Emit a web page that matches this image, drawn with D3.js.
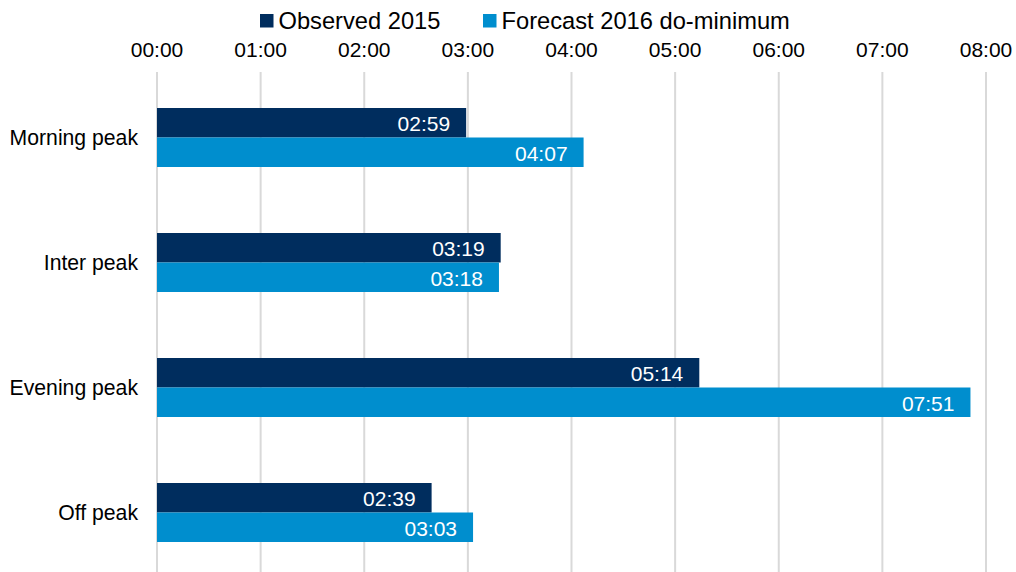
<!DOCTYPE html>
<html>
<head>
<meta charset="utf-8">
<script src="https://cdn.jsdelivr.net/npm/d3@7"></script>
<style>
  body { margin: 0; background: #fff; }
  text { font-family: "Liberation Sans", Arial, sans-serif; }
</style>
</head>
<body>
<div id="chart"></div>
<script>
// data (minutes)
var categories = ["Morning peak", "Inter peak", "Evening peak", "Off peak"];
var seriesNames = ["Observed 2015", "Forecast 2016 do-minimum"];
var observed2015 = [179, 199, 314, 159];
var forecast2016 = [247, 198, 471, 183];
var tickValues = [0, 60, 120, 180, 240, 300, 360, 420, 480];
var colors = ["#002D5E", "#008ECE"];

var W = 1016, H = 572;
var margin = {left: 157, right: 30, top: 75, bottom: -3};

var svg = d3.select("#chart").append("svg")
    .attr("width", W).attr("height", H);

var x = d3.scaleLinear().domain([0, 480]).range([margin.left, 986]);
var y = d3.scaleBand().domain(categories).range([margin.top, H - margin.bottom]);
var ySub = d3.scaleBand().domain(seriesNames)
    .range([(y.bandwidth() - 59) / 2, (y.bandwidth() + 59) / 2]);

function fmt(m) {
  return d3.format("02d")(Math.floor(m / 60)) + ":" + d3.format("02d")(m % 60);
}

// gridlines
svg.append("g").selectAll("line")
  .data(tickValues).enter().append("line")
    .attr("x1", d => x(d)).attr("x2", d => x(d))
    .attr("y1", 72).attr("y2", H)
    .attr("stroke", "#d9d9d9").attr("stroke-width", 2);

// top axis labels
svg.append("g").selectAll("text")
  .data(tickValues).enter().append("text")
    .attr("x", d => x(d)).attr("y", 49)
    .attr("text-anchor", "middle").attr("dominant-baseline", "central")
    .style("font-size", "21px").attr("fill", "#000")
    .text(d => fmt(d));

// category labels
svg.append("g").selectAll("text")
  .data(categories).enter().append("text")
    .attr("x", 138).attr("y", d => y(d) + y.bandwidth() / 2)
    .attr("text-anchor", "end").attr("dominant-baseline", "central")
    .style("font-size", "21.2px").attr("fill", "#000")
    .text(d => d);

var rows = [];
categories.forEach(function(c, i) {
  rows.push({cat: c, s: seriesNames[0], v: observed2015[i], col: colors[0]});
  rows.push({cat: c, s: seriesNames[1], v: forecast2016[i], col: colors[1]});
});

var bars = svg.append("g").selectAll("g")
  .data(rows).enter().append("g");

bars.append("rect")
    .attr("x", x(0))
    .attr("y", d => y(d.cat) + ySub(d.s))
    .attr("width", d => x(d.v) - x(0))
    .attr("height", ySub.bandwidth())
    .attr("fill", d => d.col);

bars.append("text")
    .attr("x", d => x(d.v) - 16)
    .attr("y", d => y(d.cat) + ySub(d.s) + ySub.bandwidth() / 2 + 1)
    .attr("text-anchor", "end").attr("dominant-baseline", "central")
    .style("font-size", "21px").attr("fill", "#fff")
    .text(d => fmt(d.v));

// legend
var legX = [260, 483];
var leg = svg.append("g").selectAll("g")
  .data(seriesNames).enter().append("g")
    .attr("transform", (d, i) => "translate(" + legX[i] + ",14)");
leg.append("rect").attr("width", 13.5).attr("height", 13.5)
    .attr("fill", (d, i) => colors[i]);
leg.append("text").attr("x", 18.5).attr("y", 6.5)
    .attr("dominant-baseline", "central")
    .style("font-size", "23.7px").attr("fill", "#000")
    .text(d => d);
</script>
</body>
</html>
